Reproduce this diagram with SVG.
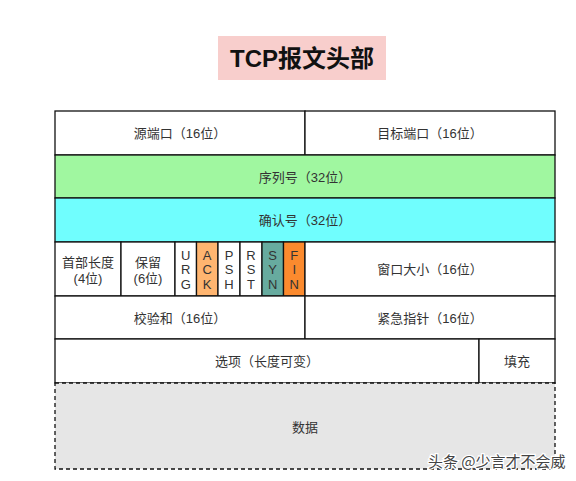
<svg xmlns="http://www.w3.org/2000/svg" width="576" height="481" viewBox="0 0 576 481">
<style>
.c{stroke:#111;stroke-width:1.3}
.t{font-family:"Liberation Sans","Noto Sans CJK SC",sans-serif;font-size:13px;fill:#333;text-anchor:middle;dominant-baseline:central}
.v{font-family:"Liberation Sans",sans-serif;font-size:13px;fill:#333;text-anchor:middle;dominant-baseline:central}
</style>
<rect width="576" height="481" fill="#fff"/>
<g id="title">
<rect x="218" y="36" width="168" height="44" fill="#f8cecc"/>
<text x="302" y="58" style="font-family:'Liberation Sans','Noto Sans CJK SC',sans-serif;font-size:24px;font-weight:bold;fill:#111;text-anchor:middle;dominant-baseline:central">TCP报文头部</text>
</g>
<g id="src-port"><rect class="c" x="55" y="111" width="250" height="44" fill="#fff"/><text class="t" x="180" y="133">源端口（16位）</text></g>
<g id="dst-port"><rect class="c" x="305" y="111" width="250" height="44" fill="#fff"/><text class="t" x="430" y="133">目标端口（16位）</text></g>
<g id="seq"><rect class="c" x="55" y="155" width="500" height="43" fill="#a0f7a0"/><text class="t" x="305" y="177">序列号（32位）</text></g>
<g id="ack-num"><rect class="c" x="55" y="198" width="500" height="44" fill="#70fefe"/><text class="t" x="305" y="220">确认号（32位）</text></g>
<g id="hlen"><rect class="c" x="55" y="242" width="66" height="54" fill="#fff"/><text class="t" x="88" y="262">首部长度</text><text class="t" x="88" y="278">(4位)</text></g>
<g id="reserved"><rect class="c" x="121" y="242" width="54" height="54" fill="#fff"/><text class="t" x="148" y="262">保留</text><text class="t" x="148" y="278">(6位)</text></g>
<g id="urg"><rect class="c" x="175" y="242" width="21.5" height="54" fill="#fff"/><text class="v" x="185.7" y="255">U</text><text class="v" x="185.7" y="269">R</text><text class="v" x="185.7" y="284">G</text></g>
<g id="ack"><rect class="c" x="196.5" y="242" width="21.5" height="54" fill="#ffb570"/><text class="v" x="207.2" y="255">A</text><text class="v" x="207.2" y="269">C</text><text class="v" x="207.2" y="284">K</text></g>
<g id="psh"><rect class="c" x="218" y="242" width="22" height="54" fill="#fff"/><text class="v" x="229" y="255">P</text><text class="v" x="229" y="269">S</text><text class="v" x="229" y="284">H</text></g>
<g id="rst"><rect class="c" x="240" y="242" width="22" height="54" fill="#fff"/><text class="v" x="251" y="255">R</text><text class="v" x="251" y="269">S</text><text class="v" x="251" y="284">T</text></g>
<g id="syn"><rect class="c" x="262" y="242" width="21.5" height="54" fill="#67ab9f"/><text class="v" x="272.7" y="255">S</text><text class="v" x="272.7" y="269">Y</text><text class="v" x="272.7" y="284">N</text></g>
<g id="fin"><rect class="c" x="283.5" y="242" width="21.5" height="54" fill="#fb8a2e"/><text class="v" x="294.2" y="255">F</text><text class="v" x="294.2" y="269">I</text><text class="v" x="294.2" y="284">N</text></g>
<g id="window"><rect class="c" x="305" y="242" width="250" height="54" fill="#fff"/><text class="t" x="430" y="269">窗口大小（16位）</text></g>
<g id="checksum"><rect class="c" x="55" y="296" width="250" height="43" fill="#fff"/><text class="t" x="180" y="318">校验和（16位）</text></g>
<g id="urgent"><rect class="c" x="305" y="296" width="250" height="43" fill="#fff"/><text class="t" x="430" y="318">紧急指针（16位）</text></g>
<g id="options"><rect class="c" x="55" y="339" width="424" height="44" fill="#fff"/><text class="t" x="267" y="361">选项（长度可变）</text></g>
<g id="padding"><rect class="c" x="479" y="339" width="76" height="44" fill="#fff"/><text class="t" x="517" y="361">填充</text></g>
<g id="data"><rect class="c" x="55" y="383" width="500" height="86" fill="#e6e6e6" stroke-dasharray="4 3"/><text class="t" x="305" y="427">数据</text></g>
<g id="connectors"></g>
<text x="428" y="467" style="font-family:'Noto Sans CJK SC',sans-serif;font-size:15px;fill:#444;stroke:#fff;stroke-width:2.5;paint-order:stroke">头条 @少言才不会威</text>
</svg>
